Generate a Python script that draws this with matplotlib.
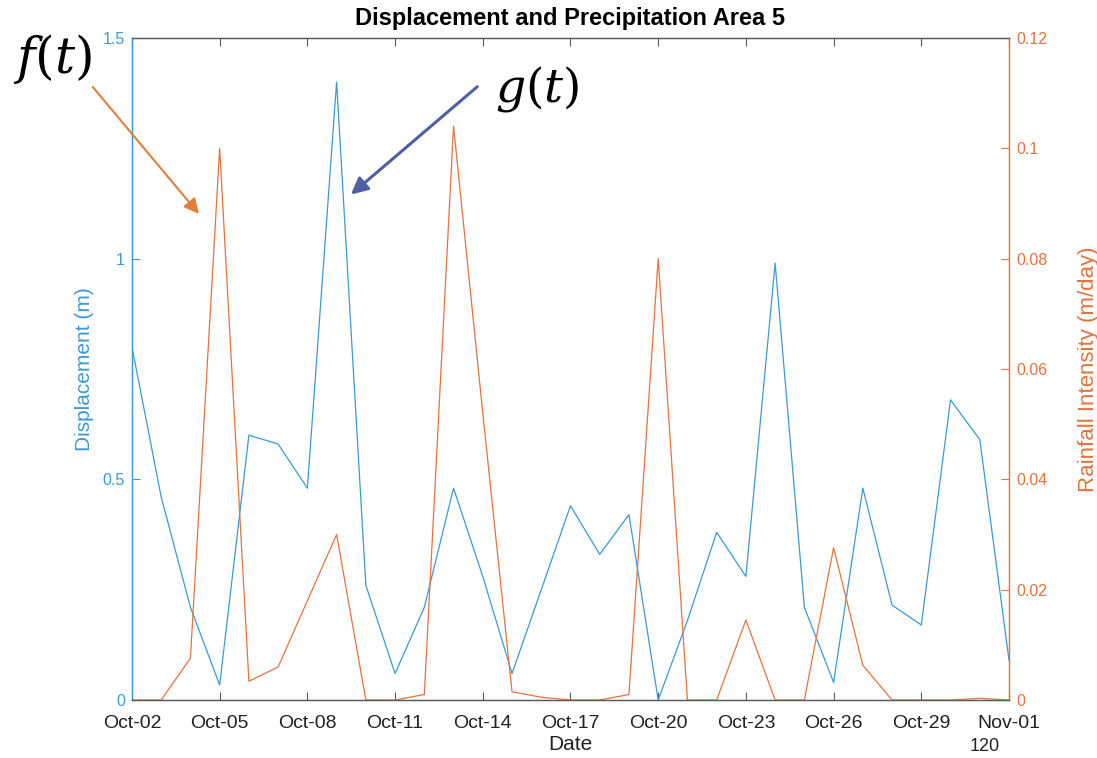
import matplotlib
matplotlib.use("Agg")
import matplotlib.pyplot as plt
import matplotlib.dates as mdates
from matplotlib.patches import FancyArrowPatch
import pandas as pd

plt.rcParams['font.family'] = ['Liberation Sans', 'DejaVu Sans']
plt.rcParams['mathtext.fontset'] = 'dejavuserif'

dates = pd.date_range("2020-10-02", "2020-11-01", freq="D")

# displacement (m), one value per day
displacement = [0.80, 0.46, 0.21, 0.034, 0.60, 0.58, 0.48, 1.40, 0.26, 0.06,
                0.21, 0.48, 0.28, 0.06, 0.25, 0.44, 0.33, 0.42, 0.00, 0.18,
                0.38, 0.28, 0.99, 0.21, 0.04, 0.48, 0.215, 0.17, 0.68, 0.59,
                0.09]

# rainfall intensity (m/day)
rainfall = [0.0, 0.0, 0.0076, 0.100, 0.0034, 0.006, 0.018, 0.030, 0.0, 0.0,
            0.001, 0.104, 0.052, 0.0015, 0.0005, 0.0, 0.0, 0.001, 0.080, 0.0,
            0.0, 0.0145, 0.0, 0.0, 0.0276, 0.0063, 0.0, 0.0, 0.0, 0.0003,
            0.0]

BLUE = '#3a9ad3'
ORANGE = '#e4733d'
AXGRAY = '#5a5a5a'
TXT = '#222222'

fig = plt.figure(figsize=(10.97, 7.58), dpi=100)
ax = fig.add_axes([0.1203, 0.0765, 0.7995, 0.8734])
ax2 = ax.twinx()

ax.plot(dates, displacement, color=BLUE, lw=0.9)
ax2.plot(dates, rainfall, color=ORANGE, lw=0.9)

ax.set_xlim(dates[0], dates[-1])
ax.set_ylim(0, 1.5)
ax2.set_ylim(0, 0.12)

ax.set_xticks(dates[::3])
ax.xaxis.set_major_formatter(mdates.DateFormatter('%b-%d'))

ax.set_yticks([0, 0.5, 1, 1.5])
ax.set_yticklabels(['0', '0.5', '1', '1.5'])
ax2.set_yticks([0, 0.02, 0.04, 0.06, 0.08, 0.1, 0.12])
ax2.set_yticklabels(['0', '0.02', '0.04', '0.06', '0.08', '0.1', '0.12'])

ax.tick_params(axis='x', direction='in', top=True, colors=AXGRAY, labelcolor=TXT,
               labelsize=14, length=6, width=0.8, pad=11)
ax.tick_params(axis='y', direction='in', colors=BLUE, labelsize=11.5, length=6, width=0.8, pad=5)
ax2.tick_params(axis='y', direction='in', colors=ORANGE, labelsize=11.5, length=6, width=0.8, pad=5)

for a in (ax, ax2):
    for s in a.spines.values():
        s.set_linewidth(0.9)
    a.spines['bottom'].set_color(AXGRAY)
    a.spines['top'].set_color(AXGRAY)
    a.spines['left'].set_color(BLUE)
    a.spines['right'].set_color(ORANGE)

ax.set_xlabel('Date', fontsize=15, color=TXT, labelpad=2)
ax.set_ylabel('Displacement (m)', fontsize=15, color=BLUE, labelpad=6)
ax2.set_ylabel('Rainfall Intensity (m/day)', fontsize=16, color=ORANGE, labelpad=22)
ax.set_title('Displacement and Precipitation Area 5', fontsize=17, fontweight='bold', pad=9)

fig.text(0.898, 0.004, '120', fontsize=13, color=TXT, ha='center', va='bottom')

# f(t) and g(t) annotations
fig.text(0.048, 0.922, r'$f(t)$', fontsize=36, ha='center', va='center')
fig.text(0.49, 0.883, r'$g(t)$', fontsize=34, ha='center', va='center')
fig.add_artist(FancyArrowPatch((0.083, 0.888), (0.183, 0.715), transform=fig.transFigure,
                               arrowstyle='-|>,head_length=9,head_width=4.5', color='#e27f3a', lw=1.5))
fig.add_artist(FancyArrowPatch((0.437, 0.888), (0.318, 0.741), transform=fig.transFigure,
                               arrowstyle='-|>,head_length=10,head_width=5', color='#4f5fa6', lw=2.2))

fig.savefig('out.png', dpi=100)
